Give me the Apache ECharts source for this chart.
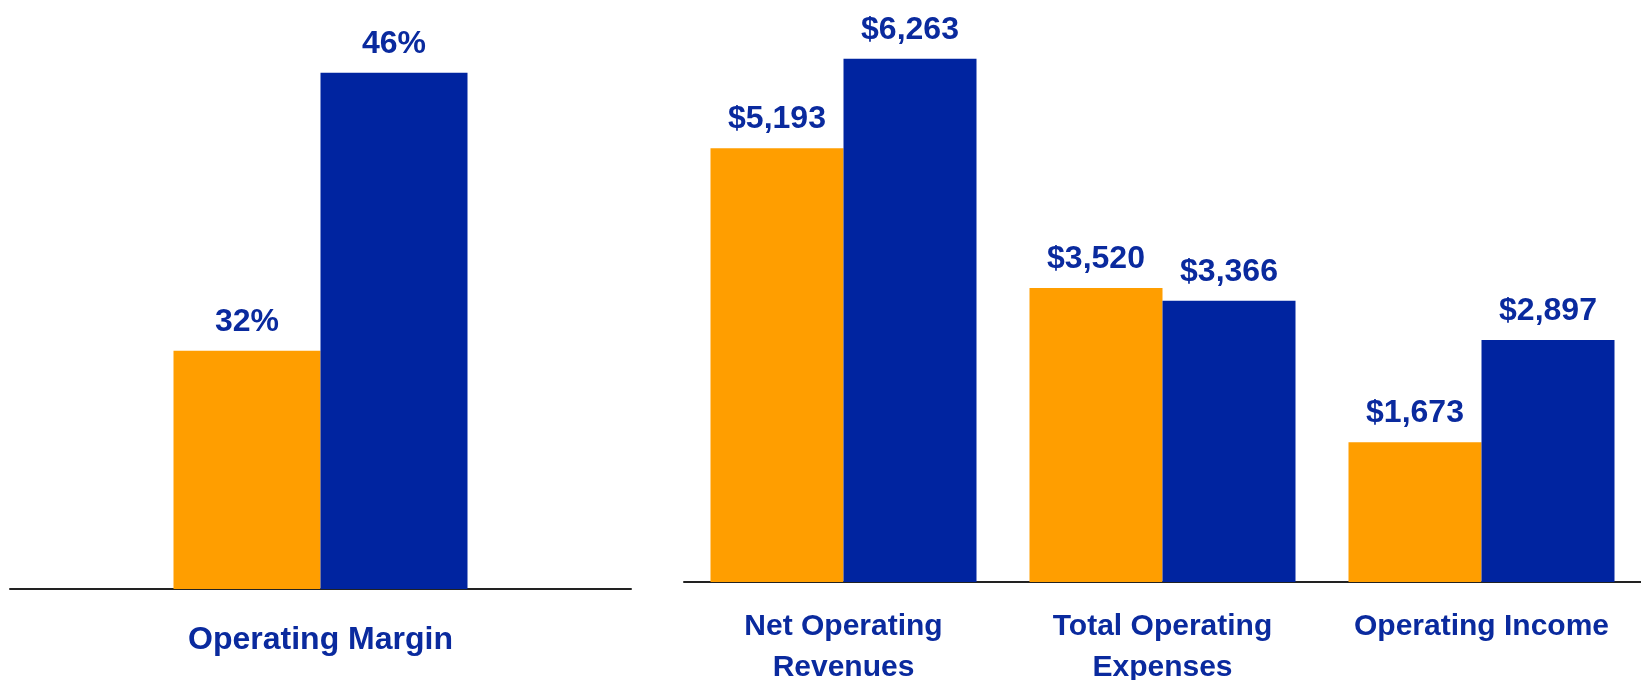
<!DOCTYPE html>
<html>
<head>
<meta charset="utf-8">
<script src="https://cdn.jsdelivr.net/npm/echarts@6/dist/echarts.min.js"></script>
<style>
html,body{margin:0;padding:0;background:#fff;}
#chart{width:1641px;height:680px;}
</style>
</head>
<body>
<div id="chart"></div>
<script>
// ---- data ----
const marginCategories = ['Operating Margin'];
const marginPrior = [32];
const marginCurrent = [46];

const finCategories = ['Net Operating\nRevenues', 'Total Operating\nExpenses', 'Operating Income'];
const finPrior = [5193, 3520, 1673];
const finCurrent = [6263, 3366, 2897];

const seriesNames = ['Prior Year', 'Current Year'];

// ---- styles ----
const ORANGE = '#FF9E00';
const BLUE = '#0024A0';
const TEXT = '#0A2A9E';
const FONT = '"Liberation Sans", Arial, Helvetica, sans-serif';

const chart = echarts.init(document.getElementById('chart'), null, {renderer: 'canvas'});

const pct = p => Math.round(p.value) + '%';
const usd = p => '$' + Number(p.value).toLocaleString('en-US');

const dataLabel = (fmt) => ({
  show: true, position: 'top', distance: 13,
  formatter: fmt, color: TEXT, fontFamily: FONT, fontWeight: 'bold',
  fontSize: 32, lineHeight: 32
});

chart.setOption({
  animation: false,
  backgroundColor: '#fff',
  grid: [
    {left: 10, right: 1010, top: 33, bottom: 91, containLabel: false, outerBoundsMode: 'none'},
    {left: 684, right: 0, top: 39, bottom: 98, containLabel: false, outerBoundsMode: 'none'}
  ],
  xAxis: [
    {
      gridIndex: 0, type: 'category', data: marginCategories,
      axisLine: {show: true, lineStyle: {color: '#222', width: 2}},
      axisTick: {show: false},
      axisLabel: {color: TEXT, fontFamily: FONT, fontWeight: 'bold', fontSize: 32, lineHeight: 32, margin: 35}
    },
    {
      gridIndex: 1, type: 'category', data: finCategories,
      axisLine: {show: true, lineStyle: {color: '#222', width: 2}},
      axisTick: {show: false},
      axisLabel: {color: TEXT, fontFamily: FONT, fontWeight: 'bold', fontSize: 30, lineHeight: 41, margin: 24, interval: 0}
    }
  ],
  yAxis: [
    {gridIndex: 0, type: 'value', min: 20, max: 48, show: false, splitLine: {show: false}},
    {gridIndex: 1, type: 'value', min: 0, max: 6500, show: false, splitLine: {show: false}}
  ],
  series: [
    {name: seriesNames[0], type: 'bar', xAxisIndex: 0, yAxisIndex: 0, data: marginPrior,
     barWidth: 147, barGap: '0%', itemStyle: {color: ORANGE}, label: dataLabel(pct)},
    {name: seriesNames[1], type: 'bar', xAxisIndex: 0, yAxisIndex: 0, data: marginCurrent,
     barWidth: 147, barGap: '0%', itemStyle: {color: BLUE}, label: dataLabel(pct)},
    {name: seriesNames[0], type: 'bar', xAxisIndex: 1, yAxisIndex: 1, data: finPrior,
     barWidth: 133, barGap: '0%', itemStyle: {color: ORANGE}, label: dataLabel(usd)},
    {name: seriesNames[1], type: 'bar', xAxisIndex: 1, yAxisIndex: 1, data: finCurrent,
     barWidth: 133, barGap: '0%', itemStyle: {color: BLUE}, label: dataLabel(usd)}
  ]
});
</script>
</body>
</html>
